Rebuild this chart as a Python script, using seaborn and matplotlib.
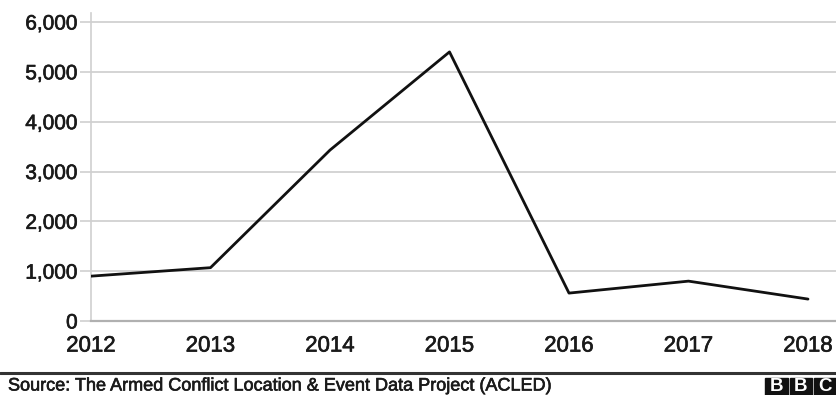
import matplotlib
matplotlib.use("Agg")
import matplotlib.pyplot as plt
import matplotlib.patheffects as pe
from matplotlib.patches import Rectangle
import seaborn as sns
import pandas as pd

# Fatalities per year
years = [2012, 2013, 2014, 2015, 2016, 2017, 2018]
deaths = [900, 1070, 3430, 5400, 560, 800, 440]
y_ticks = [0, 1000, 2000, 3000, 4000, 5000, 6000]
source_text = "Source: The Armed Conflict Location & Event Data Project (ACLED)"

sns.set_style("white")
plt.rcParams["font.family"] = ["Liberation Sans", "DejaVu Sans"]

df = pd.DataFrame({"year": years, "deaths": deaths})

W, H = 836, 395
fig = plt.figure(figsize=(W / 100, H / 100), dpi=100)
ax = fig.add_axes([91 / W, 1 - 321 / H, 1 - 91 / W, (321 - 13) / H])

sns.lineplot(data=df, x="year", y="deaths", ax=ax, color="#111111",
             linewidth=2.0, zorder=3)

ax.set_xlim(2012, 2018 + 28 / 119.5)
ax.set_ylim(0, 6000 + 9 / 49.7 * 1000)
ax.set_xticks(years)
ax.set_xticklabels([str(y) for y in years])
ax.set_yticks(y_ticks)
ax.set_yticklabels([f"{v:,}" for v in y_ticks])
ax.set_xlabel("")
ax.set_ylabel("")

ax.grid(axis="y", color="#d4d4d4", linewidth=1.4, zorder=0)
ax.grid(axis="x", visible=False)
for side in ["top", "right"]:
    ax.spines[side].set_visible(False)
ax.spines["left"].set_color("#cfcfcf")
ax.spines["left"].set_linewidth(1.2)
ax.spines["bottom"].set_color("#b0b0b0")
ax.spines["bottom"].set_linewidth(1.6)

ax.tick_params(axis="y", length=8, width=1.2, color="#cfcfcf", pad=1.5,
               labelsize=15, labelcolor="#1a1a1a", left=True)
ax.tick_params(axis="x", length=0, pad=10.5, labelsize=16, labelcolor="#1a1a1a")

heavy = [pe.withStroke(linewidth=0.45, foreground="#1a1a1a")]
for lbl in ax.get_xticklabels() + ax.get_yticklabels():
    lbl.set_path_effects(heavy)

# Footer rule, source line and logo blocks
fig.add_artist(plt.Line2D([0, 1], [1 - 373 / H, 1 - 373 / H],
                          transform=fig.transFigure, color="#333333", linewidth=2.2))
fig.text(8 / W, 1 - 386 / H, source_text, fontsize=13, color="#1a1a1a",
         va="center", ha="left", path_effects=heavy)
for i, letter in enumerate("BBC"):
    x0 = 765 + i * 24.5
    fig.add_artist(Rectangle((x0 / W, 1 - 395 / H), 22.5 / W, 17 / H,
                             transform=fig.transFigure, color="#111111"))
    fig.text((x0 + 11.25) / W, 1 - 386.5 / H, letter, fontsize=13.5,
             fontweight="bold", color="white", ha="center", va="center")

fig.savefig("out.png", dpi=100)
